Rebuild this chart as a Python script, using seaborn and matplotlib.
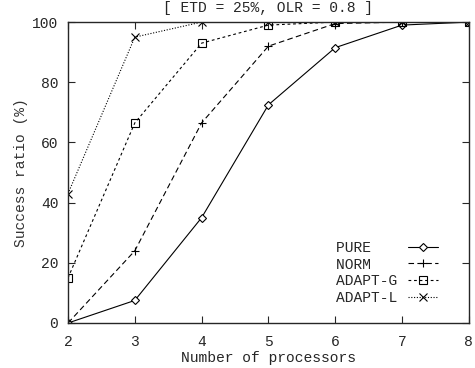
import matplotlib
matplotlib.use("Agg")
import matplotlib.pyplot as plt
import seaborn as sns
import pandas as pd

processors = [2, 3, 4, 5, 6, 7, 8]
pure = [0, 7.5, 35, 72.5, 91.5, 99, 100]
norm = [0, 24, 66.5, 92, 99.5, 100, 100]
adapt_g = [15, 66.5, 93, 99, 100, 100, 100]
adapt_l = [43, 95, 100, 100, 100, 100, 100]
series_names = ["PURE", "NORM", "ADAPT-G", "ADAPT-L"]
title = "[ ETD = 25%, OLR = 0.8 ]"

sns.set_style("ticks")
plt.rcParams['font.family'] = ['Liberation Mono', 'DejaVu Sans Mono']

fig = plt.figure(figsize=(4.75, 3.68), dpi=100)
ax = fig.add_axes([0.1432, 0.1223, 0.8438, 0.8177])

styles = {
    "PURE": dict(marker='D', ls='-', ms=4.5, mfc='white'),
    "NORM": dict(marker='+', ls=(0, (5, 3)), ms=6, mfc='black'),
    "ADAPT-G": dict(marker='s', ls=(0, (2.5, 2.5)), ms=6, mfc='none'),
    "ADAPT-L": dict(marker='x', ls=(0, (1, 1.5)), ms=6, mfc='black'),
}
data = [pure, norm, adapt_g, adapt_l]
width = max(len(n) for n in series_names)
for name, vals in zip(series_names, data):
    df = pd.DataFrame({"x": processors, "y": vals})
    st = styles[name]
    sns.lineplot(data=df, x="x", y="y", ax=ax, color='black', lw=0.8,
                 marker=st['marker'], linestyle=st['ls'], markersize=st['ms'],
                 markerfacecolor=st['mfc'], markeredgecolor='black',
                 markeredgewidth=0.8, label=name.ljust(width))

ax.set_xlim(2, 8)
ax.set_ylim(0, 100)
ax.set_xticks(processors)
ax.set_yticks([0, 20, 40, 60, 80, 100])
ax.tick_params(direction='in', top=True, right=True, length=5, width=0.8,
               labelsize=10.5)
ax.tick_params(axis='x', pad=9)
ax.tick_params(axis='y', pad=7)
for s in ax.spines.values():
    s.set_linewidth(1.0)
ax.set_xlabel("Number of processors", fontsize=10.5, labelpad=1)
ax.set_ylabel("Success ratio (%)", fontsize=10.5, labelpad=3, color='#333333')
ax.set_title(title, fontsize=10.5, pad=7)

leg = ax.legend(loc='lower right', markerfirst=False, frameon=False,
                fontsize=10.5, handlelength=2.0, labelspacing=0.2,
                bbox_to_anchor=(0.955, 0.015), handletextpad=0.8)

fig.savefig("out.png", dpi=100)
